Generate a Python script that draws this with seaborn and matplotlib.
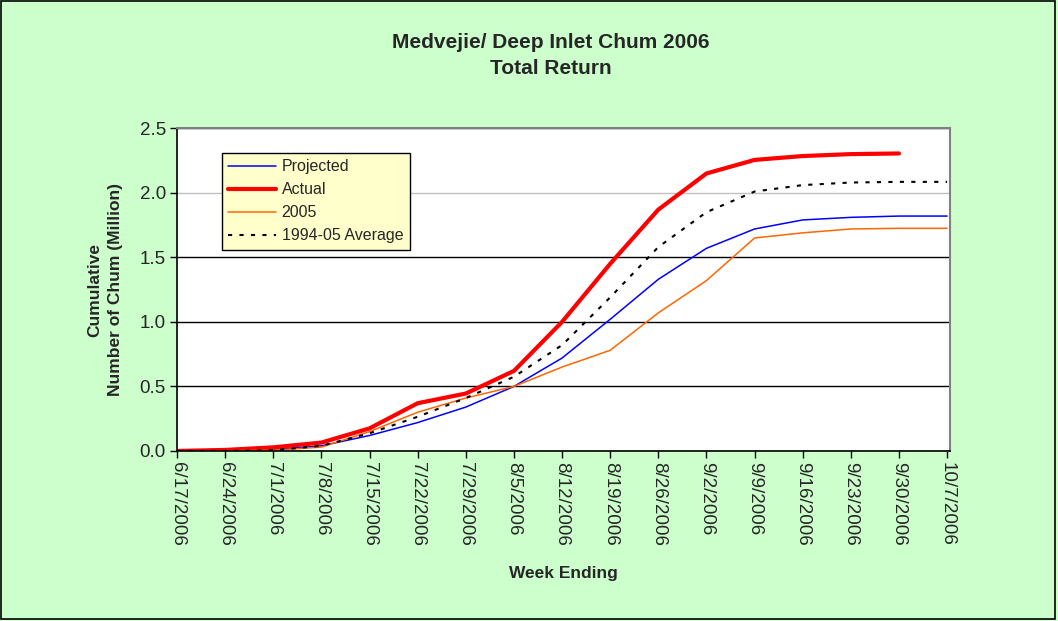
import numpy as np
import matplotlib
matplotlib.use("Agg")
import matplotlib.pyplot as plt
import seaborn as sns
from matplotlib.patches import Rectangle

# Week ending dates (categories)
weeks = ["6/17/2006", "6/24/2006", "7/1/2006", "7/8/2006", "7/15/2006",
         "7/22/2006", "7/29/2006", "8/5/2006", "8/12/2006", "8/19/2006",
         "8/26/2006", "9/2/2006", "9/9/2006", "9/16/2006", "9/23/2006",
         "9/30/2006", "10/7/2006"]

# Cumulative number of chum (million)
projected = [0.0, 0.003, 0.01, 0.04, 0.12, 0.22, 0.34, 0.50, 0.72, 1.02,
             1.33, 1.57, 1.72, 1.79, 1.81, 1.82, 1.82]
actual = [0.0, 0.008, 0.028, 0.065, 0.175, 0.37, 0.445, 0.62, 1.0, 1.45,
          1.87, 2.15, 2.255, 2.285, 2.30, 2.305, np.nan]
y2005 = [0.0, 0.002, 0.006, 0.03, 0.15, 0.30, 0.41, 0.50, 0.65, 0.78,
         1.07, 1.32, 1.65, 1.69, 1.72, 1.725, 1.725]
average = [0.0, 0.0, 0.005, 0.04, 0.137, 0.265, 0.41, 0.575, 0.82, 1.19,
           1.58, 1.85, 2.01, 2.06, 2.08, 2.085, 2.085]

yticks = [0.0, 0.5, 1.0, 1.5, 2.0, 2.5]

sns.set_theme(style="white")
plt.rcParams["font.family"] = ["Liberation Sans", "DejaVu Sans"]

fig, ax = plt.subplots(figsize=(10.58, 6.21), dpi=100)
fig.patch.set_facecolor("#CCFFCC")
fig.patches.append(Rectangle((0.001, 0.004), 0.996, 0.994, transform=fig.transFigure,
                             fill=False, edgecolor="black", linewidth=1.2))
fig.subplots_adjust(left=0.1673, right=0.8979, top=0.7934, bottom=0.2738)
ax.set_facecolor("white")

x = list(range(len(weeks)))
sns.lineplot(x=x, y=projected, ax=ax, color="#0000FF", linewidth=1.1, label="Projected")
sns.lineplot(x=x, y=actual, ax=ax, color="#FF0000", linewidth=3, label="Actual")
sns.lineplot(x=x, y=y2005, ax=ax, color="#FF6600", linewidth=1.1, label="2005")
sns.lineplot(x=x, y=average, ax=ax, color="black", linewidth=1.5,
             linestyle=(0, (2, 3.5)), label="1994-05 Average")

ax.set_xlim(0, 16.06)
ax.set_ylim(0, 2.5)
ax.set_xticks(x)
ax.set_xticklabels(weeks, rotation=-90, fontsize=13.5)
ax.set_yticks(yticks)
ax.set_yticklabels([f"{v:.1f}" for v in yticks], fontsize=13.5)
ax.tick_params(axis="both", direction="out", length=5, width=1, color="black",
               bottom=True, left=True, pad=3)

ax.grid(axis="y", color="black", linewidth=1)
ax.get_ygridlines()[4].set_color("#C0C0C0")

for side in ["left", "bottom"]:
    ax.spines[side].set_color("black")
    ax.spines[side].set_linewidth(1.2)
for side in ["top", "right"]:
    ax.spines[side].set_color("#808080")
    ax.spines[side].set_linewidth(1.5)

ax.set_xlabel("Week Ending", fontsize=12.5, fontweight="bold", labelpad=14)
ax.set_ylabel("Cumulative\nNumber of Chum (Million)", fontsize=12.5,
              fontweight="bold", labelpad=12, linespacing=1.45)

fig.text(0.521, 0.931, "Medvejie/ Deep Inlet Chum 2006", ha="center", va="center",
         fontsize=15, fontweight="bold")
fig.text(0.521, 0.890, "Total Return", ha="center", va="center",
         fontsize=15, fontweight="bold")

leg = ax.legend(loc="upper left", bbox_to_anchor=(0.058, 0.924), borderaxespad=0,
                fontsize=11.5, frameon=True, fancybox=False, framealpha=1,
                facecolor="#FFFFCC", edgecolor="black", handlelength=3,
                handletextpad=0.35, labelspacing=0.5, borderpad=0.4)
leg.get_frame().set_linewidth(1)

fig.savefig("out.png", dpi=100, facecolor=fig.get_facecolor())
